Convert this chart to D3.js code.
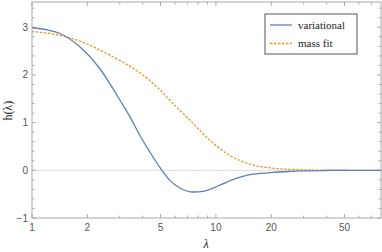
<!DOCTYPE html>
<html>
<head>
<meta charset="utf-8">
<script src="https://cdn.jsdelivr.net/npm/d3@7"></script>
<style>
  body { margin: 0; background: #fff; }
  svg { display: block; }
  .tick-label { font-family: "Liberation Sans", Arial, sans-serif; font-size: 10px; fill: #555; }
  .leg { font-family: "Liberation Serif", "Times New Roman", serif; font-size: 11px; fill: #222; }
</style>
</head>
<body>
<div id="chart"></div>
<script>
// lambda on a log axis
var lambdaV = [1, 1.2, 1.42, 1.82, 2.34, 2.65, 3.01, 3.41, 3.86, 4.38, 4.96, 5.62, 6.37, 7.5, 8.52, 10.5, 12.9, 15.3, 19.7, 25, 30, 40, 50, 79]
var variational = [2.99, 2.95, 2.87, 2.59, 2.13, 1.82, 1.47, 1.12, 0.73, 0.38, 0.06, -0.21, -0.37, -0.455, -0.44, -0.31, -0.17, -0.09, -0.05, -0.025, -0.012, -0.004, 0, 0]
var lambdaM = [1, 1.42, 1.82, 2.34, 3.01, 3.41, 4, 4.96, 5.62, 7.23, 9.27, 11.93, 15.3, 19.7, 25, 30, 40, 50, 79]
var massFit = [2.91, 2.83, 2.71, 2.52, 2.30, 2.18, 2.0, 1.69, 1.47, 1.05, 0.63, 0.31, 0.13, 0.05, 0.02, 0.01, 0.003, 0.001, 0]
var xMajor = [1, 2, 5, 10, 20, 50]
var xMinor = [3, 4, 6, 7, 8, 9, 30, 40, 60, 70]
var yMajor = [-1, 0, 1, 2, 3]

var margin = {left: 32, right: 1, top: 2, bottom: 34}
var W = 382, H = 252
var width = W - margin.left - margin.right, height = H - margin.top - margin.bottom

var svg = d3.select('#chart').append('svg').attr('width', W).attr('height', H)
var g = svg.append('g').attr('transform', 'translate(' + margin.left + ',' + margin.top + ')')

var x = d3.scaleLog().domain([1, 79]).range([0, width])
var y = d3.scaleLinear().domain([-1, 3.53]).range([height, 0])

var yMinor = d3.range(-1, 3.5, 0.2).filter(function(v){ return Math.abs(v - Math.round(v)) > 0.01 })

// zero grid line
g.append('line').attr('x1', 0).attr('x2', width).attr('y1', y(0)).attr('y2', y(0))
  .attr('stroke', '#ddd').attr('stroke-width', 1)

// frame
g.append('rect').attr('width', width).attr('height', height)
  .attr('fill', 'none').attr('stroke', '#aaa').attr('stroke-width', 1)

var tickCol = '#aaa'
function xTicks(vals, len){
  vals.forEach(function(v){
    var px = x(v)
    g.append('line').attr('x1', px).attr('x2', px).attr('y1', height).attr('y2', height - len).attr('stroke', tickCol)
    g.append('line').attr('x1', px).attr('x2', px).attr('y1', 0).attr('y2', len).attr('stroke', tickCol)
  })
}
function yTicks(vals, len){
  vals.forEach(function(v){
    var py = y(v)
    g.append('line').attr('x1', 0).attr('x2', len).attr('y1', py).attr('y2', py).attr('stroke', tickCol)
    g.append('line').attr('x1', width).attr('x2', width - len).attr('y1', py).attr('y2', py).attr('stroke', tickCol)
  })
}
xTicks(xMajor, 4); xTicks(xMinor, 2.5)
yTicks(yMajor, 4); yTicks(yMinor, 2.5)

xMajor.forEach(function(v){
  g.append('text').attr('class', 'tick-label').attr('x', x(v)).attr('y', height + 13)
    .attr('text-anchor', 'middle').text(v)
})
yMajor.forEach(function(v){
  g.append('text').attr('class', 'tick-label').attr('x', -4).attr('y', y(v) + 3.5)
    .attr('text-anchor', 'end').text(v < 0 ? '\u2212' + Math.abs(v) : v)
})

// axis labels
svg.append('text').attr('class', 'leg').style('font-size', '12px')
  .attr('transform', 'translate(12,' + (margin.top + y(1.25)) + ') rotate(-90)')
  .attr('text-anchor', 'middle').text('h(\u03bb)')
svg.append('text').attr('class', 'leg').style('font-size', '12px').attr('x', 206).attr('y', 248)
  .attr('text-anchor', 'middle').style('font-style', 'italic').text('\u03bb')

var line = d3.line().x(function(d){ return x(d[0]) }).y(function(d){ return y(d[1]) }).curve(d3.curveMonotoneX)

g.append('path').attr('d', line(d3.zip(lambdaM, massFit)))
  .attr('fill', 'none').attr('stroke', '#E19C24').attr('stroke-width', 1.3).attr('stroke-dasharray', '2.5,1.5')
g.append('path').attr('d', line(d3.zip(lambdaV, variational)))
  .attr('fill', 'none').attr('stroke', '#5E81B5').attr('stroke-width', 1.3)

// legend
var leg = svg.append('g').attr('transform', 'translate(265,14)')
leg.append('rect').attr('width', 92).attr('height', 40).attr('fill', '#fff').attr('stroke', '#555').attr('stroke-width', 1)
var items = [['variational', '#5E81B5', null], ['mass fit', '#E19C24', '2.5,1.5']]
items.forEach(function(it, i){
  var yy = 11 + i * 18.5
  leg.append('line').attr('x1', 5).attr('x2', 27).attr('y1', yy).attr('y2', yy)
    .attr('stroke', it[1]).attr('stroke-width', 1.3).attr('stroke-dasharray', it[2])
  leg.append('text').attr('class', 'leg').attr('x', 33).attr('y', yy + 3.5).text(it[0])
})
</script>
</body>
</html>
